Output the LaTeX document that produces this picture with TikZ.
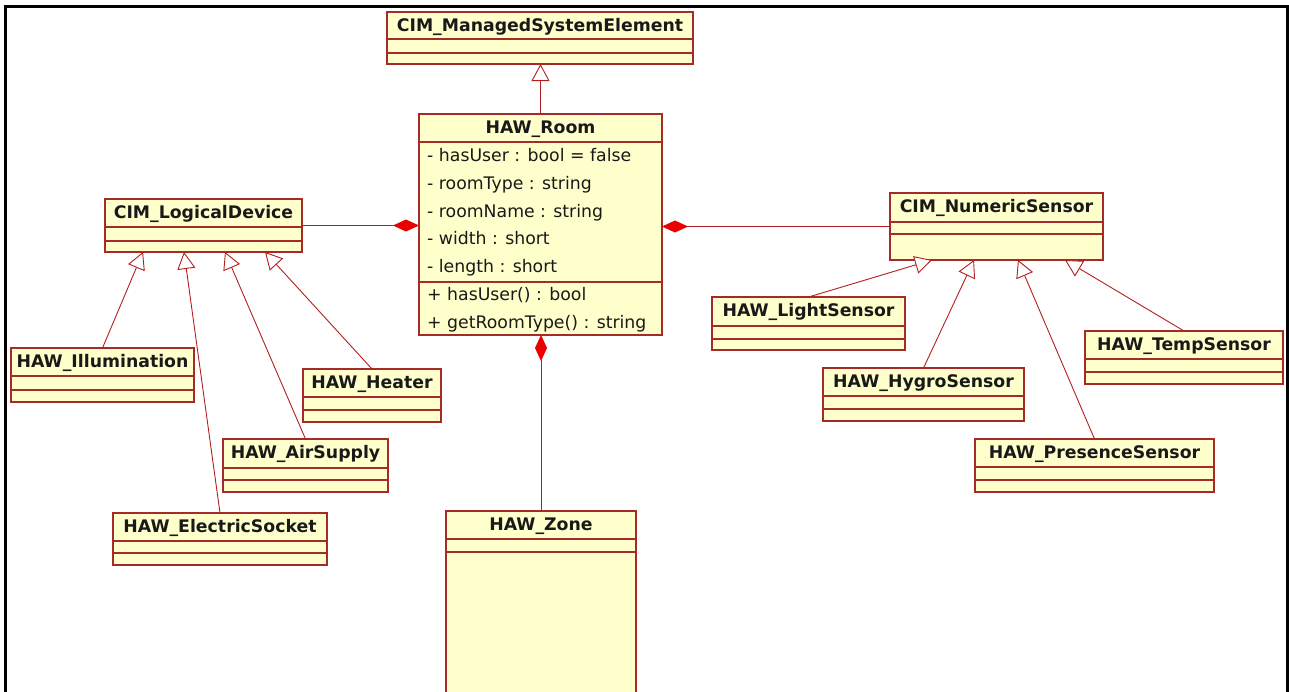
\documentclass[tikz,border=0pt]{standalone}
\usepackage{fontspec}
\setmainfont{DejaVu Sans}
\usetikzlibrary{arrows.meta}

\definecolor{classfill}{RGB}{255,255,204}
\definecolor{classedge}{RGB}{165,42,42}
\definecolor{linkred}{RGB}{180,30,30}
\definecolor{diamondred}{RGB}{235,0,0}
\definecolor{textdark}{RGB}{25,25,25}

\tikzset{
  classbox/.style={draw=classedge, fill=classfill, line width=1.3pt,
    inner sep=0pt, outer sep=0pt, anchor=north west},
  divider/.style={draw=classedge, line width=1.3pt},
  classtitle/.style={font=\fontsize{17.3}{20}\selectfont\bfseries,
    text=textdark, inner sep=0pt, anchor=base},
  member/.style={font=\fontsize{17.3}{20}\selectfont, text=textdark,
    inner sep=0pt, anchor=base west},
  gen/.style={draw=linkred, line width=0.9pt,
    -{Triangle[length=17pt,width=18pt,fill=white]}},
  comp/.style={draw=linkred, line width=1pt,
    -{Diamond[length=26pt,width=12pt,color=diamondred]}},
  frameline/.style={draw=black, line width=3pt},
}

% #1 name, #2 #3 top-left corner, #4 width, #5 height,
% #6 #7 offsets of the two compartment lines, #8 class name
\newcommand\umlclass[8]{%
  \node[classbox, minimum width=#4pt, minimum height=#5pt] (#1) at (#2,#3) {};
  \draw[divider] ([yshift=-#6pt]#1.north west) -- ([yshift=-#6pt]#1.north east);
  \draw[divider] ([yshift=-#7pt]#1.north west) -- ([yshift=-#7pt]#1.north east);
  \node[classtitle] (#1-title) at ([yshift=-19.5pt]#1.north) {#8};
}

\begin{document}
\begin{tikzpicture}[x=1pt,y=-1pt]
  \useasboundingbox (0,0) rectangle (1289,691);
  \clip (0,0) rectangle (1289,691);

  % outer frame (open at the bottom)
  \draw[frameline] (5.5,700) -- (5.5,6.5) -- (1287.5,6.5) -- (1287.5,700);

  % classes
  \umlclass{mse}{387}{12}{306}{52}{27}{41}{CIM\_ManagedSystemElement}
  \umlclass{room}{419}{114}{243}{221}{28}{168}{HAW\_Room}
  \umlclass{ld}{105}{199}{197}{53}{28}{42}{CIM\_LogicalDevice}
  \umlclass{ns}{890}{193}{213}{67}{29}{41}{CIM\_NumericSensor}

  \umlclass{ill}{11}{348}{183}{54}{28}{42}{HAW\_Illumination}
  \umlclass{heat}{303}{369}{138}{53}{28}{41}{HAW\_Heater}
  \umlclass{air}{223}{439}{165}{53}{29}{41}{HAW\_AirSupply}
  \umlclass{sock}{113}{513}{214}{52}{28}{40}{HAW\_ElectricSocket}

  \umlclass{light}{712}{297}{193}{53}{29}{42}{HAW\_LightSensor}
  \umlclass{hygro}{823}{368}{201}{53}{28}{41}{HAW\_HygroSensor}
  \umlclass{temp}{1085}{331}{198}{53}{28}{41}{HAW\_TempSensor}
  \umlclass{pres}{975}{439}{239}{53}{28}{41}{HAW\_PresenceSensor}

  \umlclass{zone}{446}{511}{190}{200}{28}{41}{HAW\_Zone}

  % members of HAW_Room
  \node[member] (a1) at (427,161.5) {- hasUser : bool = false};
  \node[member] (a2) at (427,189)   {- roomType : string};
  \node[member] (a3) at (427,217)   {- roomName : string};
  \node[member] (a4) at (427,244.5) {- width : short};
  \node[member] (a5) at (427,272)   {- length : short};
  \node[member] (m1) at (427,300)   {+ hasUser() : bool};
  \node[member] (m2) at (427,328)   {+ getRoomType() : string};

  % generalizations
  \draw[gen] (room.north) -- (room.north |- mse.south);
  \draw[gen] (ill.north)  -- ([xshift=38pt]ld.south west);
  \draw[gen] (sock.north) -- ([xshift=79pt]ld.south west);
  \draw[gen] (air.north)  -- ([xshift=120pt]ld.south west);
  \draw[gen] (heat.north) -- ([xshift=160pt]ld.south west);

  \draw[gen] (light.north) -- ([xshift=42pt]ns.south west);
  \draw[gen] (hygro.north) -- ([xshift=84pt]ns.south west);
  \draw[gen] (pres.north)  -- ([xshift=128pt]ns.south west);
  \draw[gen] (temp.north)  -- ([xshift=175pt]ns.south west);

  % compositions
  \draw[comp] (ld.east) -- (ld.east -| room.west);
  \draw[comp] (ns.west) -- (ns.west -| room.east);
  \draw[comp] (zone.north) -- (zone.north |- room.south);
\end{tikzpicture}
\end{document}
